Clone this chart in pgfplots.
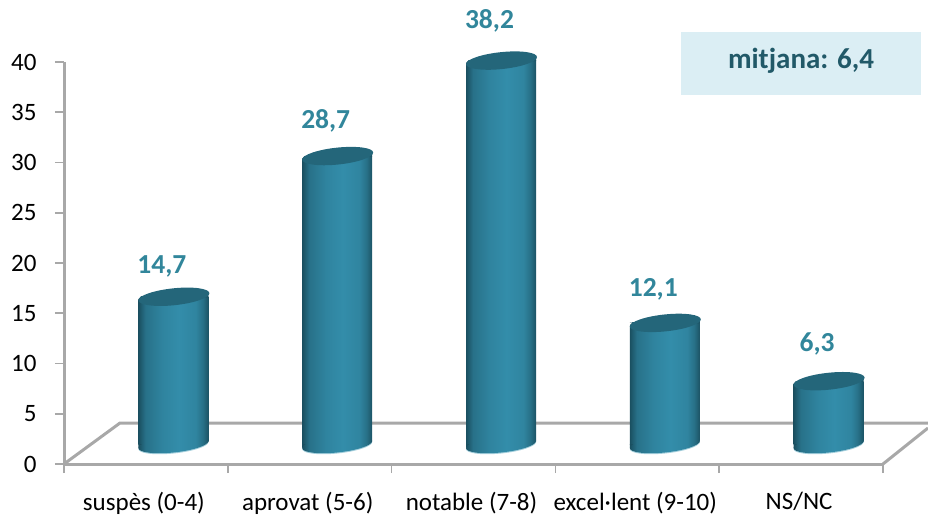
\documentclass[border=0pt]{standalone}
\usepackage{fontspec}
\setmainfont{Carlito}
\usepackage{pgfplots}
\usepackage{pgfplotstable}
\pgfplotsset{compat=1.18}
\definecolor{axgray}{HTML}{A8A8A8}
\definecolor{lab}{HTML}{31869B}
\definecolor{boxfill}{HTML}{DBEEF4}
\definecolor{boxtext}{HTML}{215968}
\definecolor{captop}{HTML}{24667A}
\definecolor{edgeL}{HTML}{1A4F60}
\definecolor{edgeR}{HTML}{1C5364}
\definecolor{midc}{HTML}{338DAA}
\definecolor{fringe}{HTML}{A5CFDC}
\pgfdeclarehorizontalshading{cylside}{100bp}{
  color(0bp)=(edgeL); color(25bp)=(edgeL); color(30bp)=(edgeL!45!midc); color(42bp)=(midc!85!edgeL);
  color(54bp)=(midc); color(66bp)=(midc!85!edgeR); color(71bp)=(edgeR!50!midc); color(75bp)=(edgeR); color(100bp)=(edgeR)}
\pgfdeclareplotmark{cyltop}{%
  % trim the corner of the bar above the tilted rim, fill the gap below it
  \pgfsetfillcolor{white}%
  \pgfpathmoveto{\pgfqpoint{-36pt}{0.6pt}}\pgfpathlineto{\pgfqpoint{-36pt}{-3.6pt}}\pgfpathlineto{\pgfqpoint{-32.5pt}{0.6pt}}\pgfpathclose\pgfusepathqfill
  \pgfsetfillcolor{edgeR}%
  \pgfpathmoveto{\pgfqpoint{35pt}{-0.5pt}}\pgfpathlineto{\pgfqpoint{35pt}{3.6pt}}\pgfpathlineto{\pgfqpoint{31pt}{-0.5pt}}\pgfpathclose\pgfusepathqfill
  \pgfsetfillcolor{captop}%
  \pgfpathellipse{\pgfqpoint{0.5pt}{0pt}}{\pgfqpoint{35.5pt}{3.5pt}}{\pgfqpoint{0pt}{8.5pt}}\pgfusepathqfill}
\pgfdeclareplotmark{cylbase}{%
  \pgfsetfillcolor{white}%
  \pgfpathmoveto{\pgfqpoint{36pt}{-0.6pt}}\pgfpathlineto{\pgfqpoint{36pt}{3.6pt}}\pgfpathlineto{\pgfqpoint{32.5pt}{-0.6pt}}\pgfpathclose\pgfusepathqfill
  \pgfsetfillcolor{edgeL}%
  \pgfpathmoveto{\pgfqpoint{-35pt}{0.5pt}}\pgfpathlineto{\pgfqpoint{-35pt}{-3.6pt}}\pgfpathlineto{\pgfqpoint{-31pt}{0.5pt}}\pgfpathclose\pgfusepathqfill
  \pgfsetfillcolor{fringe}%
  \pgfpathellipse{\pgfqpoint{0pt}{-1pt}}{\pgfqpoint{35pt}{3.5pt}}{\pgfqpoint{0pt}{8pt}}\pgfusepathqfill
  \begin{pgfscope}
  \pgfpathellipse{\pgfqpoint{0pt}{0pt}}{\pgfqpoint{35pt}{3.5pt}}{\pgfqpoint{0pt}{8pt}}
  \pgfshadepath{cylside}{0}\pgfusepath{discard}
  \end{pgfscope}}
\pgfplotstableread{
x v dy
0 14.7 49.5
1 28.7 55
2 38.2 59.5
3 12.1 53.5
4 6.3 57
}\datatab
\pgfplotsset{cyl/.style={ybar,bar width=70pt,bar shift=0pt,draw=none,shade,shading=cylside,xshift=27.5pt,yshift=19.5pt}}
\begin{document}
\begin{tikzpicture}
\path[use as bounding box] (0,0) rectangle (928pt,517pt);
% floor of the 3D chart
\draw[axgray,line width=3pt] (64pt,53pt) -- (120pt,94pt) -- (928pt,94pt);
\draw[axgray,line width=3pt] (883pt,53pt) -- (928pt,89pt);
% mean box
\fill[boxfill] (681pt,422pt) rectangle (921pt,485pt);
\node[text=boxtext,font=\fontsize{29}{32}\selectfont\bfseries] at (801pt,456pt) {mitjana: 6,4};
\begin{axis}[
  at={(64pt,53pt)},anchor=south west,
  scale only axis,width=819pt,height=402pt,
  xmin=-0.5,xmax=4.5,ymin=0,ymax=40,
  axis lines*=left,
  axis line style={axgray,line width=3pt,-},
  clip=false,
  xtick={-0.5,0.5,1.5,2.5,3.5,4.5},xticklabels={},
  extra x ticks={0,1,2,3,4},
  extra x tick labels={suspès (0-4),aprovat (5-6),notable (7-8),excel·lent (9-10),NS/NC},
  extra x tick style={major tick length=0pt,
    tick label style={font=\fontsize{25}{28}\selectfont,yshift=-28pt,xshift=-2pt,inner sep=0pt}},
  ytick={0,5,...,40},
  tick style={axgray,line width=1.6pt},
  major tick length=9pt,
  tick align=outside,
  yticklabel style={font=\fontsize{25}{30}\selectfont,xshift=-15pt,/pgf/number format/assume math mode=true},
]
\addplot[cyl] coordinates {(0,14.7)};
\addplot[cyl] coordinates {(1,28.7)};
\addplot[cyl] coordinates {(2,38.2)};
\addplot[cyl] coordinates {(3,12.1)};
\addplot[cyl] coordinates {(4,6.3)};
\addplot[only marks,mark=cyltop,xshift=27.5pt,yshift=19.5pt] table[x=x,y=v]{\datatab};
\addplot[only marks,mark=cylbase,xshift=27.5pt,yshift=19.5pt] table[x=x,y expr=0]{\datatab};
\addplot[draw=none,mark=none,
  visualization depends on={\thisrow{dy} \as \dy},
  nodes near coords={\textbf{\pgfmathprintnumber[fixed,fixed zerofill,precision=1,use comma,assume math mode=true]{\pgfplotspointmeta}}},
  every node near coord/.style={anchor=center,text=lab,font=\fontsize{27.5}{30}\selectfont,xshift=16pt,yshift=\dy pt}]
  table[x=x,y=v]{\datatab};
\end{axis}
\end{tikzpicture}
\end{document}
